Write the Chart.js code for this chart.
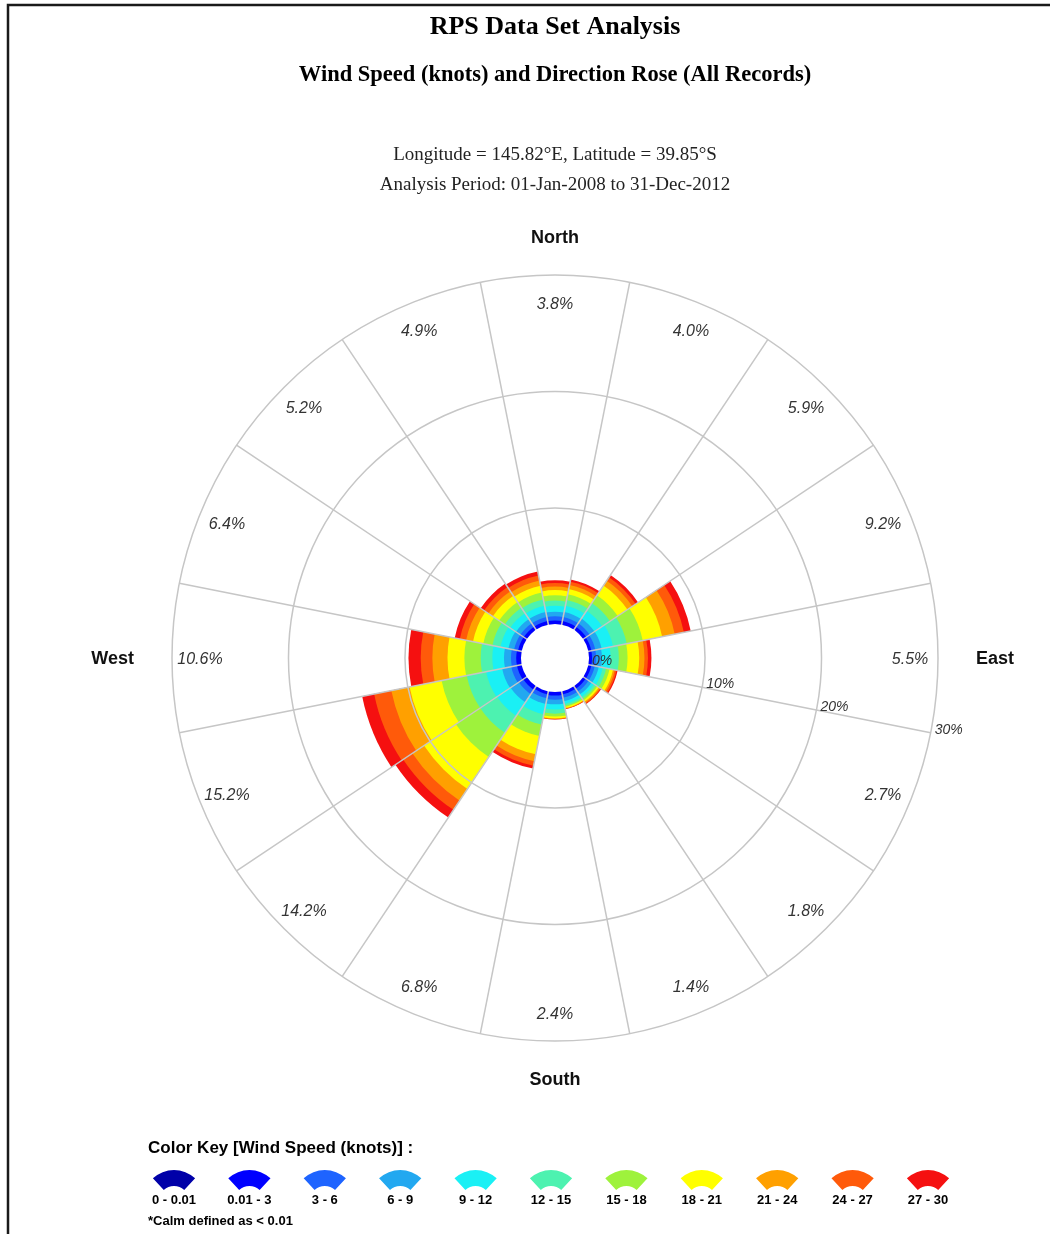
<!DOCTYPE html>
<html>
<head>
<meta charset="utf-8">
<title>Wind Rose</title>
<script src="https://cdn.jsdelivr.net/npm/chart.js@4.4.0/dist/chart.umd.min.js"></script>
<style>
  html, body { margin: 0; padding: 0; background: #fff; }
</style>
</head>
<body>
<canvas id="miRosaVientos" width="1050" height="1234"></canvas>
<script>
// Datos: 16 sectores desde el norte, en sentido horario
const direcciones = ['N', 'NNE', 'NE', 'ENE', 'E', 'ESE', 'SE', 'SSE', 'S', 'SSW', 'SW', 'WSW', 'W', 'WNW', 'NW', 'NNW'];
const porcentajes = [3.8, 4.0, 5.9, 9.2, 5.5, 2.7, 1.8, 1.4, 2.4, 6.8, 14.2, 15.2, 10.6, 6.4, 5.2, 4.9];

// Frecuencia (%) por banda de velocidad y sector
const calma  = [0, 0, 0, 0, 0, 0, 0, 0, 0, 0, 0, 0, 0, 0, 0, 0];
const v0a3   = [0.35, 0.35, 0.35, 0.3, 0.3, 0.3, 0.3, 0.3, 0.35, 0.3, 0.4, 0.45, 0.45, 0.35, 0.35, 0.35];
const v3a6   = [0.35, 0.35, 0.35, 0.35, 0.35, 0.3, 0.3, 0.3, 0.35, 0.35, 0.45, 0.5, 0.45, 0.35, 0.35, 0.35];
const v6a9   = [0.4, 0.45, 0.5, 0.55, 0.5, 0.35, 0.3, 0.3, 0.4, 0.5, 0.85, 0.8, 0.6, 0.5, 0.45, 0.45];
const v9a12  = [0.5, 0.55, 0.8, 1.0, 0.75, 0.35, 0.25, 0.25, 0.45, 0.9, 1.4, 1.4, 1.0, 0.7, 0.6, 0.55];
const v12a15 = [0.45, 0.5, 0.8, 1.2, 0.7, 0.3, 0.2, 0.15, 0.35, 0.9, 1.75, 1.7, 1.0, 0.7, 0.55, 0.55];
const v15a18 = [0.45, 0.5, 0.8, 1.4, 0.75, 0.3, 0.15, 0.1, 0.25, 1.0, 2.5, 2.2, 1.4, 0.8, 0.6, 0.6];
const v18a21 = [0.45, 0.45, 1.0, 1.7, 1.0, 0.3, 0.15, 0.1, 0.15, 1.6, 3.3, 2.8, 1.45, 0.9, 0.65, 0.6];
const v21a24 = [0.3, 0.35, 0.5, 1.1, 0.45, 0.15, 0.1, 0.05, 0.05, 0.6, 1.2, 1.6, 1.3, 0.6, 0.45, 0.45];
const v24a27 = [0.3, 0.3, 0.35, 0.8, 0.3, 0.15, 0.1, 0.03, 0.03, 0.4, 0.95, 1.5, 1.0, 0.55, 0.45, 0.45];
const v27a30 = [0.25, 0.2, 0.25, 0.6, 0.3, 0.1, 0.05, 0.02, 0.02, 0.25, 0.8, 1.05, 1.05, 0.45, 0.35, 0.35];

const etiquetasVelocidad = ['0 - 0.01', '0.01 - 3', '3 - 6', '6 - 9', '9 - 12', '12 - 15', '15 - 18', '18 - 21', '21 - 24', '24 - 27', '27 - 30'];
const coloresVelocidad = ['#0000a8', '#0000ff', '#1e64ff', '#22a8f0', '#1af0f5', '#4df2b0', '#9ef23c', '#ffff00', '#ffa000', '#ff5a0a', '#f51010'];

// Anillos de la escala (%)
const anillos = [0, 10, 20, 30];
const minRadial = -2.88;

// Bandas apiladas: cada dataset es el acumulado hasta su banda
const bandas = [calma, v0a3, v3a6, v6a9, v9a12, v12a15, v15a18, v18a21, v21a24, v24a27, v27a30];
const acumulados = [];
let suma = direcciones.map(() => 0);
bandas.forEach(b => {
  suma = suma.map((s, i) => s + b[i]);
  acumulados.push(suma.slice());
});

const datosRosa = {
  labels: direcciones,
  datasets: acumulados.map((d, k) => ({
    label: etiquetasVelocidad[k],
    data: d,
    backgroundColor: coloresVelocidad[k],
    borderWidth: 0
  }))
};

const gris = '#c6c6c6';

// Textos, hueco central y leyenda
const textosRosa = {
  id: 'textosRosa',
  afterDraw(chart) {
    const ctx = chart.ctx;
    const r = chart.scales.r;
    const cx = r.xCenter, cy = r.yCenter;

    ctx.save();
    // hueco de calma
    ctx.fillStyle = '#fff';
    ctx.beginPath();
    ctx.arc(cx, cy, r.getDistanceFromCenterForValue(0) + 0.5, 0, Math.PI * 2);
    ctx.fill();

    // marco
    ctx.strokeStyle = '#1a1a1a';
    ctx.lineWidth = 2.5;
    ctx.beginPath();
    ctx.moveTo(8, 1234);
    ctx.lineTo(8, 5);
    ctx.lineTo(1050, 5);
    ctx.stroke();

    // títulos
    ctx.fillStyle = '#000';
    ctx.textAlign = 'center';
    ctx.textBaseline = 'middle';
    ctx.font = 'bold 26px "Liberation Serif"';
    ctx.fillText('RPS Data Set Analysis', cx, 27);
    ctx.font = 'bold 22.5px "Liberation Serif"';
    ctx.fillText('Wind Speed (knots) and Direction Rose (All Records)', cx, 75);
    ctx.font = '19px "Liberation Serif"';
    ctx.fillStyle = '#222';
    ctx.fillText('Longitude = 145.82°E, Latitude = 39.85°S', cx, 155);
    ctx.fillText('Analysis Period: 01-Jan-2008 to 31-Dec-2012', cx, 185);

    // puntos cardinales
    ctx.fillStyle = '#111';
    ctx.font = 'bold 18px "Liberation Sans"';
    ctx.fillText('North', cx, cy - 420);
    ctx.fillText('South', cx, cy + 422);
    ctx.textAlign = 'left';
    ctx.fillText('East', cx + 421, cy + 1);
    ctx.textAlign = 'right';
    ctx.fillText('West', cx - 421, cy + 1);

    // porcentaje total de cada sector
    ctx.fillStyle = '#333';
    ctx.textAlign = 'center';
    ctx.font = 'italic 16px "Liberation Sans"';
    const dEtiq = r.getDistanceFromCenterForValue(27.6);
    porcentajes.forEach((p, i) => {
      const pos = r.getPointPosition(i + 0.5, dEtiq);
      ctx.fillText(p.toFixed(1) + '%', pos.x, pos.y + 2);
    });

    // etiquetas de los anillos sobre el radio ESE
    ctx.textAlign = 'left';
    ctx.font = 'italic 14px "Liberation Sans"';
    anillos.forEach(v => {
      const pos = r.getPointPosition(5, r.getDistanceFromCenterForValue(v));
      ctx.fillText(v + '%', pos.x + 4, pos.y - 3);
    });

    // leyenda de colores
    ctx.fillStyle = '#000';
    ctx.font = 'bold 17px "Liberation Sans"';
    ctx.fillText('Color Key [Wind Speed (knots)] :', 148, 1148);
    const x0 = 174, paso = 75.4;
    coloresVelocidad.forEach((c, k) => {
      const x = x0 + k * paso;
      const yc = 1201;
      const a0 = -Math.PI / 2 - 0.75, a1 = -Math.PI / 2 + 0.75;
      ctx.fillStyle = c;
      ctx.beginPath();
      ctx.arc(x, yc, 31, a0, a1);
      ctx.arc(x, yc, 15, a1, a0, true);
      ctx.closePath();
      ctx.fill();
      ctx.fillStyle = '#000';
      ctx.textAlign = 'center';
      ctx.font = 'bold 13px "Liberation Sans"';
      ctx.fillText(etiquetasVelocidad[k], x, 1200);
    });
    ctx.textAlign = 'left';
    ctx.font = 'bold 13px "Liberation Sans"';
    ctx.fillText('*Calm defined as < 0.01', 148, 1221);
    ctx.restore();
  }
};

// Configuración del gráfico
const ctxRosa = document.getElementById('miRosaVientos').getContext('2d');
const miRosaVientos = new Chart(ctxRosa, {
  type: 'polarArea',
  data: datosRosa,
  options: {
    responsive: false,
    animation: false,
    layout: {
      padding: { left: 172, top: 275, right: 112, bottom: 193 }
    },
    scales: {
      r: {
        min: minRadial,
        max: 30,
        startAngle: -11.25,
        afterBuildTicks: (scale) => {
          scale.ticks = [{ value: minRadial }].concat(anillos.map(v => ({ value: v })));
        },
        ticks: { display: false },
        pointLabels: { display: false },
        angleLines: { display: true, color: gris, lineWidth: 1.5 },
        grid: {
          z: 1,
          circular: true,
          lineWidth: 1.5,
          color: (c) => (c.tick && c.tick.value === 0) ? 'rgba(0,0,0,0)' : gris
        }
      }
    },
    plugins: {
      legend: { display: false },
      tooltip: { enabled: false }
    }
  },
  plugins: [textosRosa]
});
</script>
</body>
</html>
